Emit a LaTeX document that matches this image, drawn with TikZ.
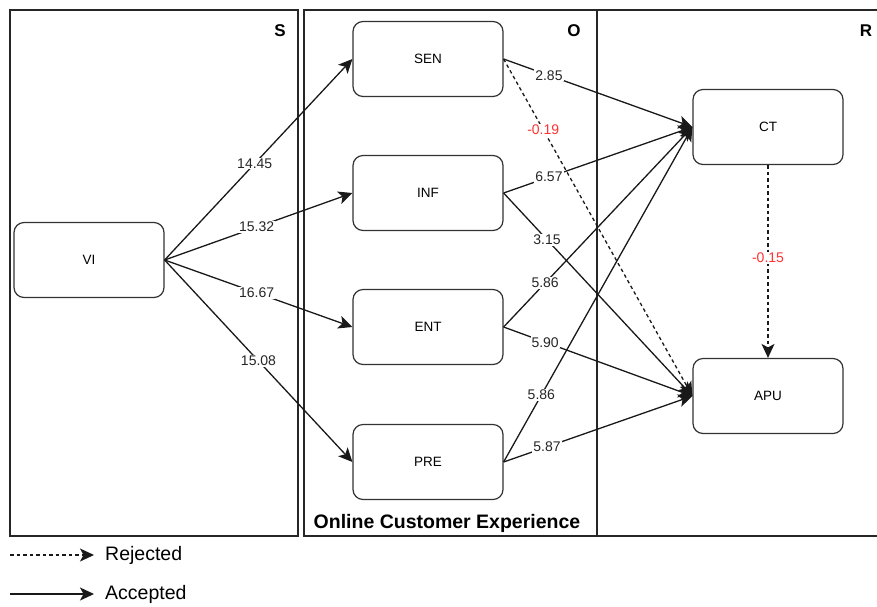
\documentclass[tikz,border=0pt]{standalone}
\usepackage{fontspec}
\setmainfont{Liberation Sans}
\usetikzlibrary{arrows.meta}
\definecolor{rejred}{HTML}{FF3333}
\begin{document}
\begin{tikzpicture}[x=1pt,y=-1pt,
  panel/.style={draw=black!85,line width=1.4pt},
  box/.style={draw=black!80,line width=1.2pt,rounded corners=10pt,minimum width=150pt,minimum height=75pt,font=\fontsize{13.5}{15}\selectfont,inner sep=0pt},
  conn/.style={draw=black!90,line width=1.3pt,-{Stealth[length=14pt,width=13pt,inset=3.5pt]}},
  rej/.style={conn,dash pattern=on 3.5pt off 3pt},
  lab/.style={fill=white,inner sep=1pt,font=\fontsize{14}{16}\selectfont,text=black!85},
  rlab/.style={lab,text=rejred},
  ptitle/.style={font=\bfseries\fontsize{17}{19}\selectfont,inner sep=0pt},
  legtext/.style={font=\fontsize{19.5}{21}\selectfont,anchor=west,inner sep=0pt}
]
\useasboundingbox (0,0) rectangle (877,606);
% panels
\draw[panel] (10,10) rectangle (298,536);
\draw[panel] (304,10) rectangle (597,536);
\draw[panel] (597,10) rectangle (880,536);
\node[ptitle] (ts) at (280,31) {S};
\node[ptitle] (to) at (574,31) {O};
\node[ptitle] (tr) at (866,31) {R};
\node[font=\bfseries\fontsize{19.5}{21}\selectfont,inner sep=0pt] (oce) at (447,523) {Online Customer Experience};
% nodes
\node[box] (vi) at (89,260) {VI};
\node[box] (sen) at (428,59) {SEN};
\node[box] (inf) at (428,193) {INF};
\node[box] (ent) at (428,327) {ENT};
\node[box] (pre) at (428,462) {PRE};
\node[box] (ct) at (768,127) {CT};
\node[box] (apu) at (768,396) {APU};
% VI edges
\draw[conn] (vi.east) -- node[lab,pos=0.48] {14.45} (sen.west);
\draw[conn] (vi.east) -- node[lab,pos=0.49] {15.32} (inf.west);
\draw[conn] (vi.east) -- node[lab,pos=0.49] {16.67} (ent.west);
\draw[conn] (vi.east) -- node[lab,pos=0.5] {15.08} (pre.west);
% O to R
\draw[conn] (sen.east) -- node[lab,pos=0.24] {2.85} (ct.west);
\draw[rej] (sen.east) -- node[rlab,pos=0.21] {-0.19} (apu.west);
\draw[conn] (inf.east) -- node[lab,pos=0.24] {6.57} (ct.west);
\draw[conn] (inf.east) -- node[lab,pos=0.23] {3.15} (apu.west);
\draw[conn] (ent.east) -- node[lab,pos=0.22] {5.86} (ct.west);
\draw[conn] (ent.east) -- node[lab,pos=0.22] {5.90} (apu.west);
\draw[conn] (pre.east) -- node[lab,pos=0.2] {5.86} (ct.west);
\draw[conn] (pre.east) -- node[lab,pos=0.23] {5.87} (apu.west);
\draw[rej] (ct.south) -- node[rlab,pos=0.48] {-0.15} (apu.north);
% legend
\coordinate (l1a) at (10,555);
\coordinate (l1b) at (94,555);
\coordinate (l2a) at (10,594);
\coordinate (l2b) at (94,594);
\draw[rej] (l1a) -- (l1b);
\draw[conn] (l2a) -- (l2b);
\node[legtext] (rejt) at (105,555) {Rejected};
\node[legtext] (acct) at (105,594) {Accepted};
\end{tikzpicture}
\end{document}
